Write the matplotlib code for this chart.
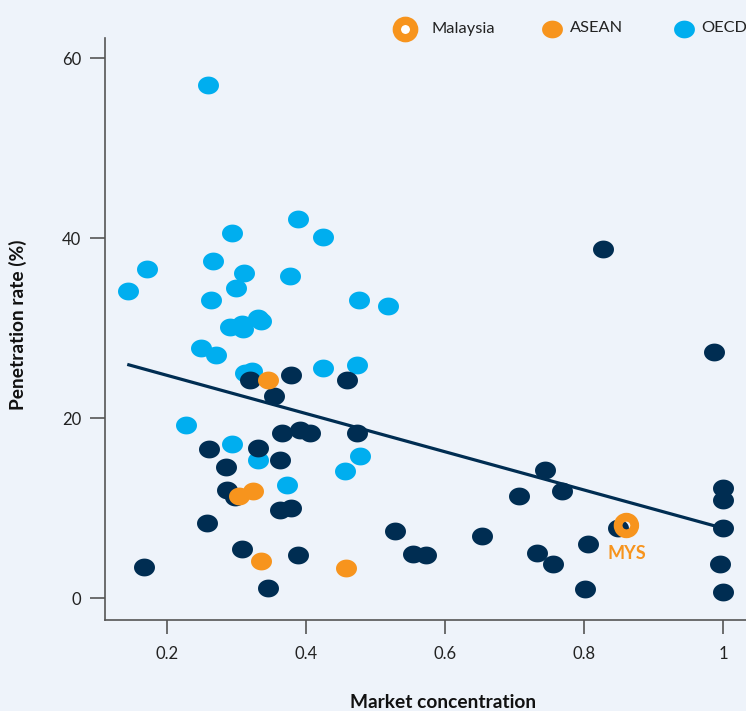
import matplotlib
matplotlib.use("Agg")
import numpy as np
import matplotlib.pyplot as plt
from matplotlib.lines import Line2D
from matplotlib.path import Path

plt.rcParams['font.family'] = ['Lato', 'DejaVu Sans']

# ---- data ----
oecd_x = [0.259, 0.389, 0.425, 0.293, 0.172, 0.144, 0.267, 0.311, 0.299, 0.377,
          0.263, 0.476, 0.331, 0.335, 0.291, 0.308, 0.310, 0.249, 0.270, 0.518,
          0.312, 0.323, 0.424, 0.474, 0.228, 0.294, 0.331, 0.373, 0.456, 0.478]
oecd_y = [57.1, 42.2, 40.2, 40.6, 36.6, 34.2, 37.5, 36.2, 34.5, 35.8,
          33.1, 33.2, 31.2, 30.8, 30.1, 30.5, 29.9, 27.8, 27.1, 32.5,
          25.1, 25.3, 25.6, 25.9, 19.3, 17.2, 15.4, 12.6, 14.2, 15.8]

other_x = [0.320, 0.378, 0.459, 0.354, 0.365, 0.391, 0.406, 0.473, 0.261, 0.331,
           0.285, 0.362, 0.287, 0.298, 0.363, 0.378, 0.257, 0.308, 0.388, 0.167,
           0.346, 0.987, 0.744, 0.707, 0.768, 1.000, 1.000, 1.000, 0.849, 0.528,
           0.653, 0.554, 0.573, 0.732, 0.755, 0.806, 0.802, 0.995, 1.000, 0.827]
other_y = [24.3, 24.8, 24.3, 22.5, 18.4, 18.7, 18.4, 18.4, 16.6, 16.7,
           14.6, 15.4, 12.0, 11.3, 9.8, 10.0, 8.4, 5.5, 4.8, 3.5,
           1.2, 27.4, 14.3, 11.4, 11.9, 12.3, 10.9, 7.8, 7.8, 7.5,
           6.9, 4.9, 4.8, 5.0, 3.8, 6.1, 1.1, 3.8, 0.7, 38.8]

asean_x = [0.346, 0.304, 0.324, 0.336, 0.457]
asean_y = [24.3, 11.4, 11.9, 4.2, 3.4]

mys_x = [0.861]
mys_y = [8.1]
mys_label = "MYS"

trend_x = [0.143, 1.0]
trend_y = [26.0, 7.8]

x_ticks = [0.2, 0.4, 0.6, 0.8, 1.0]
x_ticklabels = ["0.2", "0.4", "0.6", "0.8", "1"]
y_ticks = [0, 20, 40, 60]
y_ticklabels = ["0", "20", "40", "60"]

legend_labels = ["Malaysia", "ASEAN", "OECD"]

# ---- style ----
BG = "#EEF3FA"
NAVY = "#002D52"
BLUE = "#00AEEF"
ORANGE = "#F7941D"
SPINE = "#555555"
TXT = "#222222"

# slightly flattened dot marker
_t = np.linspace(0, 2 * np.pi, 73)
ELLIPSE = Path(np.column_stack([np.cos(_t), 0.85 * np.sin(_t)]), closed=True)

fig = plt.figure(figsize=(7.46, 7.11), dpi=100, facecolor=BG)
ax = fig.add_axes([105/746, 91/711, (746-105)/746, (673.3-91)/711])
ax.set_facecolor(BG)

S = 228
ax.scatter(oecd_x, oecd_y, s=S, color=BLUE, marker=ELLIPSE, linewidths=0, zorder=3)
ax.scatter(other_x, other_y, s=S, color=NAVY, marker=ELLIPSE, linewidths=0, zorder=3)
ax.scatter(asean_x, asean_y, s=S, color=ORANGE, marker=ELLIPSE, linewidths=0, zorder=4)
ax.plot(trend_x, trend_y, color=NAVY, lw=2.3, zorder=5, solid_capstyle='butt')
ax.scatter(mys_x, mys_y, s=12.0**2, facecolors='none', edgecolors=ORANGE, linewidths=6.3, zorder=6)
ax.annotate(mys_label, (mys_x[0], mys_y[0]), xytext=(0, -20), textcoords='offset points',
            ha='center', va='center', color=ORANGE, fontsize=13, fontweight='bold')

ax.set_xlim(0.111, 1.033)
ax.set_ylim(-2.4, 62.3)
ax.set_xticks(x_ticks)
ax.set_xticklabels(x_ticklabels)
ax.set_yticks(y_ticks)
ax.set_yticklabels(y_ticklabels)

for side in ['top', 'right']:
    ax.spines[side].set_visible(False)
for side in ['left', 'bottom']:
    ax.spines[side].set_color(SPINE)
    ax.spines[side].set_linewidth(1.2)
ax.tick_params(axis='x', direction='out', length=10, width=1.2, color=SPINE, pad=9,
               labelsize=12, labelcolor=TXT)
ax.tick_params(axis='y', direction='out', length=11, width=1.2, color=SPINE, pad=6,
               labelsize=12, labelcolor=TXT)

fig.text(18/746, 1 - 324.5/711, "Penetration rate (%)", rotation=90, ha='center', va='center',
         fontsize=13.8, fontweight='bold', color='#111111')
fig.text(443/746, 1 - 702/711, "Market concentration", ha='center', va='center',
         fontsize=13.8, fontweight='bold', color='#111111')

# ---- legend (manual) ----
leg_y = 1 - 28.5/711
fig.add_artist(Line2D([405/746], [leg_y], marker='o', markersize=12.5, markerfacecolor='white',
                      markeredgecolor=ORANGE, markeredgewidth=6.0, linestyle='none',
                      transform=fig.transFigure))
fig.add_artist(Line2D([552/746], [leg_y], marker=ELLIPSE, markersize=15, markerfacecolor=ORANGE,
                      markeredgewidth=0, linestyle='none', transform=fig.transFigure))
fig.add_artist(Line2D([684/746], [leg_y], marker=ELLIPSE, markersize=15, markerfacecolor=BLUE,
                      markeredgewidth=0, linestyle='none', transform=fig.transFigure))
for tx, lab in zip([431, 570, 701], legend_labels):
    fig.text(tx/746, leg_y, lab, ha='left', va='center', fontsize=11.8, color=TXT)

fig.savefig("out.png", dpi=100, facecolor=BG)
